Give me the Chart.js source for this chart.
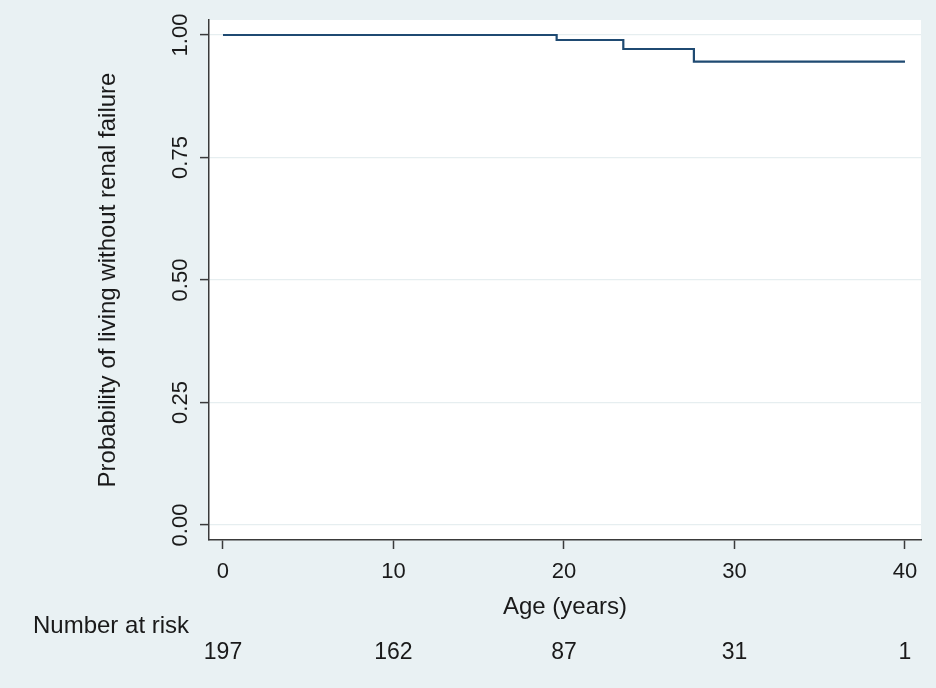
<!DOCTYPE html>
<html>
<head>
<meta charset="utf-8">
<script src="https://cdn.jsdelivr.net/npm/chart.js@4.4.1/dist/chart.umd.min.js"></script>
<style>
  html, body { margin: 0; padding: 0; background: #e9f1f3; }
  #wrap { width: 936px; height: 688px; position: relative; }
  canvas { display: block; }
</style>
</head>
<body>
<div id="wrap"><canvas id="c" width="936" height="688"></canvas></div>
<script>
// ---- data ----
const ageYears = [0, 19.57, 23.48, 27.62, 40];
const survivalProb = [1.0, 0.9898, 0.9714, 0.9455, 0.9455];
const xTickValues = [0, 10, 20, 30, 40];
const yTickValues = [0, 0.25, 0.5, 0.75, 1.0];
const riskTimes = [0, 10, 20, 30, 40];
const riskCounts = [197, 162, 87, 31, 1];
const riskLabel = 'Number at risk';
const xTitle = 'Age (years)';
const yTitle = 'Probability of living without renal failure';

const FONT = '"Liberation Sans", Arial, sans-serif';
const TEXT = '#1a1a1a';
const AXIS = '#3a3a3a';

const bgPlugin = {
  id: 'bg',
  beforeDraw(chart) {
    const { ctx, chartArea: a } = chart;
    ctx.save();
    ctx.fillStyle = '#e9f1f3';
    ctx.fillRect(0, 0, chart.width, chart.height);
    ctx.fillStyle = '#ffffff';
    ctx.fillRect(a.left, a.top, a.right - a.left, a.bottom - a.top);
    ctx.restore();
  }
};

const riskPlugin = {
  id: 'risk',
  afterDraw(chart) {
    const { ctx } = chart;
    const xs = chart.scales.x;
    ctx.save();
    ctx.fillStyle = TEXT;
    ctx.textBaseline = 'middle';
    ctx.textAlign = 'left';
    ctx.font = '24px ' + FONT;
    ctx.fillText(riskLabel, 33, 626);
    ctx.font = '23px ' + FONT;
    ctx.textAlign = 'center';
    riskTimes.forEach((t, i) => {
      ctx.fillText(String(riskCounts[i]), xs.getPixelForValue(t), 653);
    });
    ctx.restore();
  }
};

new Chart(document.getElementById('c'), {
  type: 'line',
  data: {
    datasets: [{
      data: ageYears.map((x, i) => ({ x, y: survivalProb[i] })),
      stepped: true,
      borderColor: '#1f4a72',
      borderWidth: 2.2,
      pointRadius: 0,
      fill: false
    }]
  },
  options: {
    responsive: false,
    animation: false,
    devicePixelRatio: 1,
    layout: { padding: { top: 20, right: 15, bottom: 0, left: 0 } },
    plugins: { legend: { display: false }, tooltip: { enabled: false } },
    scales: {
      x: {
        type: 'linear',
        min: -0.82,
        max: 40.94,
        afterBuildTicks(s) { s.ticks = xTickValues.map(v => ({ value: v })); },
        afterFit(s) { s.height = 148; },
        grid: { drawOnChartArea: false, drawTicks: true, tickLength: 9, tickColor: AXIS, tickWidth: 1.5 },
        border: { display: true, color: AXIS, width: 1.5 },
        ticks: { color: TEXT, font: { family: FONT, size: 22 }, padding: 10, maxRotation: 0, callback: v => String(v) },
        title: { display: true, text: xTitle, color: TEXT, font: { family: FONT, size: 24 }, padding: { top: 0, bottom: 66 } }
      },
      y: {
        type: 'linear',
        min: -0.0306,
        max: 1.0306,
        afterBuildTicks(s) { s.ticks = yTickValues.map(v => ({ value: v })); },
        afterFit(s) { s.width = 209; },
        grid: { color: '#e6eef0', lineWidth: 1.2, drawTicks: true, tickLength: 9, tickColor: AXIS, tickWidth: 1.5 },
        border: { display: true, color: AXIS, width: 1.5 },
        ticks: {
          color: TEXT, font: { family: FONT, size: 22 },
          minRotation: 90, maxRotation: 90, crossAlign: 'center', padding: -2,
          callback: v => Number(v).toFixed(2)
        },
        title: { display: true, text: yTitle, color: TEXT, font: { family: FONT, size: 24 }, padding: { top: 94, bottom: 0 } }
      }
    }
  },
  plugins: [bgPlugin, riskPlugin]
});
</script>
</body>
</html>
